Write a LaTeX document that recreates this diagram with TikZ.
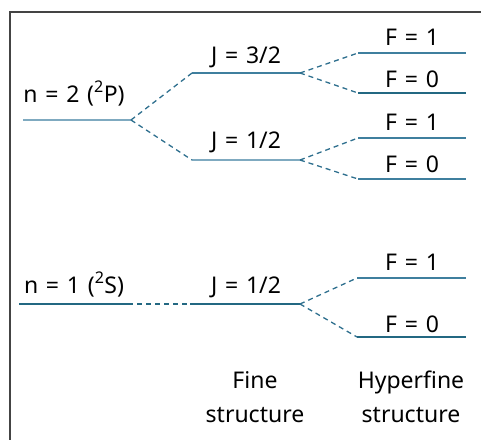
\documentclass[tikz,border=0pt]{standalone}
\usepackage{fontspec}
\setmainfont{Noto Sans}[WordSpace=1.3]
\begin{document}
\begin{tikzpicture}[x=1pt,y=-1pt,
  lbl/.style={anchor=base,inner sep=0pt,font=\fontsize{23}{27}\selectfont,text=black},
  lvlA/.style={draw=lightlvl,line width=1.4pt},
  lvlB/.style={draw=midlvl,line width=1.5pt},
  lvlC/.style={draw=darklvl,line width=2pt},
  split/.style={draw=dashcol,line width=1.3pt,dash pattern=on 5pt off 4pt},
]
\definecolor{lightlvl}{HTML}{7FAAC0}
\definecolor{midlvl}{HTML}{3F7F9E}
\definecolor{darklvl}{HTML}{236882}
\definecolor{dashcol}{HTML}{2E6F8E}
\definecolor{framecol}{HTML}{444444}
\useasboundingbox (0,0) rectangle (481,439);
% frame (continues past right and bottom edges)
\draw[framecol,line width=1.6pt] (10,460) -- (10,12) -- (500,12);

% n = 2 group
\coordinate (n2a) at (23,120);  \coordinate (n2b) at (131,120);
\coordinate (j32a) at (192,73); \coordinate (j32b) at (300,73);
\coordinate (j12a) at (192,160); \coordinate (j12b) at (300,160);
\coordinate (f1aa) at (358,53);  \coordinate (f1ab) at (466,53);
\coordinate (f0aa) at (358,93);  \coordinate (f0ab) at (466,93);
\coordinate (f1ba) at (358,138); \coordinate (f1bb) at (466,138);
\coordinate (f0ba) at (358,179); \coordinate (f0bb) at (466,179);

\draw[lvlA] (n2a) -- (n2b);
\draw[lvlB] (j32a) -- (j32b);
\draw[lvlA] (j12a) -- (j12b);
\draw[lvlB] (f1aa) -- (f1ab);
\draw[lvlC] (f0aa) -- (f0ab);
\draw[lvlB] (f1ba) -- (f1bb);
\draw[lvlB] (f0ba) -- (f0bb);

\draw[split] (n2b) -- (j32a);
\draw[split] (n2b) -- (j12a);
\draw[split] (j32b) -- (f1aa);
\draw[split] (j32b) -- (f0aa);
\draw[split] (j12b) -- (f1ba);
\draw[split] (j12b) -- (f0ba);

\node[lbl] (tn2) at (74,102) {n = 2 (\textsuperscript{2}P)};
\node[lbl] (tj32) at (246,63) {J = 3/2};
\node[lbl] (tj12) at (246,148) {J = 1/2};
\node[lbl] (tf1a) at (412,45) {F = 1};
\node[lbl] (tf0a) at (412,87) {F = 0};
\node[lbl] (tf1b) at (412,130) {F = 1};
\node[lbl] (tf0b) at (412,172) {F = 0};

% n = 1 group
\coordinate (n1a) at (19,304); \coordinate (n1b) at (128,304);
\coordinate (s12a) at (190,304); \coordinate (s12b) at (300,304);
\coordinate (f1ca) at (357,278); \coordinate (f1cb) at (466,278);
\coordinate (f0ca) at (357,337); \coordinate (f0cb) at (466,337);

\draw[lvlC] (n1a) -- (n1b);
\draw[lvlC] (s12a) -- (s12b);
\draw[lvlB] (f1ca) -- (f1cb);
\draw[lvlC] (f0ca) -- (f0cb);
\draw[split,line width=1.6pt,draw=darklvl] (n1b) -- (s12a);
\draw[split] (s12b) -- (f1ca);
\draw[split] (s12b) -- (f0ca);

\node[lbl] (tn1) at (74,293) {n = 1 (\textsuperscript{2}S)};
\node[lbl] (ts12) at (246,293) {J = 1/2};
\node[lbl] (tf1c) at (412,270) {F = 1};
\node[lbl] (tf0c) at (412,332) {F = 0};

\node[lbl] (tfine) at (255,388) {Fine};
\node[lbl] (tfines) at (255,422) {structure};
\node[lbl] (thyp) at (411,388) {Hyperfine};
\node[lbl] (thyps) at (411,422) {structure};
\end{tikzpicture}
\end{document}
